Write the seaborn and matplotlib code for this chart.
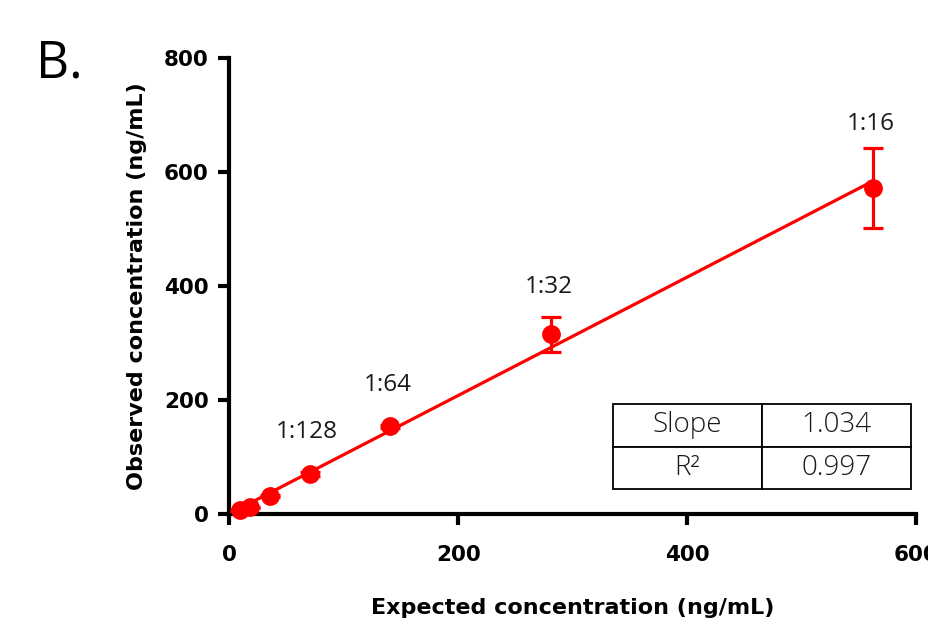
import numpy as np
import pandas as pd
import matplotlib
matplotlib.use("Agg")
import matplotlib.pyplot as plt
import seaborn as sns

# ---------------- data ----------------
dilutions = ["1:16", "1:32", "1:64", "1:128", "1:256", "1:512", "1:1024"]
expected = [562.5, 281.25, 140.6, 70.3, 35.2, 17.6, 8.8]
observed = [572, 315, 154, 70, 32, 12, 7]
errors = [70, 30, 3, 3, 2, 1, 1]
labelled = ["1:16", "1:32", "1:64", "1:128"]
label_offsets = [46, 34, 30, 30]  # points above the marker
table_rows = [["Slope", "1.034"], ["R\u00b2", "0.997"]]
xticks = [0, 200, 400, 600]
yticks = [0, 200, 400, 600, 800]

df = pd.DataFrame({"dilution": dilutions, "expected": expected,
                   "observed": observed, "err": errors})

sns.set_style("ticks")
plt.rcParams["font.family"] = ["DejaVu Sans"]
plt.rcParams["text.color"] = "black"
plt.rcParams["axes.labelcolor"] = "black"

W, H = 929, 624
fig = plt.figure(figsize=(W / 100, H / 100), dpi=100)
x0, x1, y0, y1 = 229.5, 916, 58, 514
ax = fig.add_axes([x0 / W, (H - y1) / H, (x1 - x0) / W, (y1 - y0) / H])

sns.regplot(data=df, x="expected", y="observed", ci=None, scatter=False,
            truncate=True, line_kws=dict(color="#ff0000", lw=2.3), ax=ax)
ax.errorbar(df["expected"], df["observed"], yerr=df["err"], fmt="o",
            color="#ff0000", ms=12.5, capsize=7, capthick=2.3,
            elinewidth=2.3, zorder=4, clip_on=False)

ax.set_xlim(0, 600)
ax.set_ylim(0, 800)
ax.set_xticks(xticks)
ax.set_yticks(yticks)
sns.despine(ax=ax)
for s in ["left", "bottom"]:
    ax.spines[s].set_linewidth(3)
    ax.spines[s].set_color("black")
ax.tick_params(axis="both", width=3, length=8, labelsize=15.5, colors="black")
ax.tick_params(axis="x", pad=14)
ax.tick_params(axis="y", pad=7)
for lab in ax.get_xticklabels() + ax.get_yticklabels():
    lab.set_fontweight("bold")

ax.set_xlabel("Expected concentration (ng/mL)", fontsize=16,
              fontweight="bold", labelpad=24, color="black")
ax.set_ylabel("Observed concentration (ng/mL)", fontsize=16,
              fontweight="bold", labelpad=12, color="black")

for lab, off in zip(labelled, label_offsets):
    row = df[df["dilution"] == lab].iloc[0]
    ax.annotate(lab, xy=(row["expected"], row["observed"]), xytext=(-2, off),
                textcoords="offset points", ha="center", va="center",
                fontsize=17.5, family="Open Sans", color="#1a1a1a")

tbl = ax.table(cellText=table_rows, cellLoc="center",
               bbox=[0.5586, 0.0548, 0.434, 0.186])
tbl.auto_set_font_size(False)
for cell in tbl.get_celld().values():
    cell.set_linewidth(1.3)
    cell.set_edgecolor("black")
    t = cell.get_text()
    t.set_fontsize(20)
    t.set_fontfamily("Open Sans")
    t.set_fontweight("light")
    t.set_color("#1a1a1a")

fig.text(36 / W, 1 - 78 / H, "B.", fontsize=37, family="Open Sans",
         va="baseline", ha="left", color="black")

fig.savefig("out.png", dpi=100)
